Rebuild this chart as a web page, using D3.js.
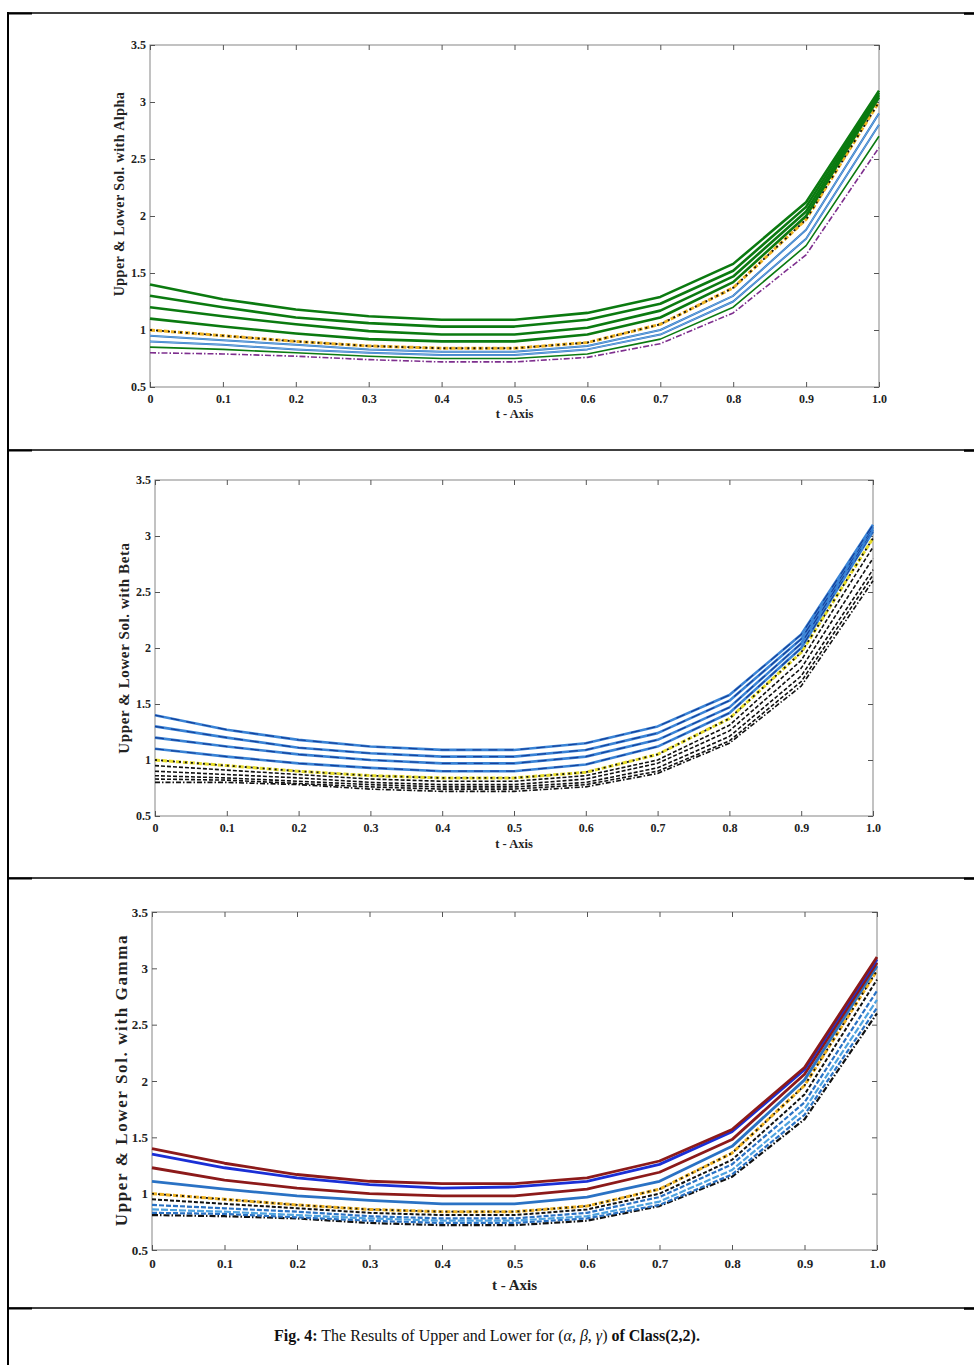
<!DOCTYPE html>
<html>
<head>
<meta charset="utf-8">
<script src="https://cdn.jsdelivr.net/npm/d3@7"></script>
<style>
  html, body { margin: 0; padding: 0; background: #fff; }
  svg { display: block; }
</style>
</head>
<body>
<svg id="fig" width="974" height="1365"></svg>
<script>
// ---- shared axes ----
const tValues = [0, 0.1, 0.2, 0.3, 0.4, 0.5, 0.6, 0.7, 0.8, 0.9, 1.0];
const xTickLabels = ["0", "0.1", "0.2", "0.3", "0.4", "0.5", "0.6", "0.7", "0.8", "0.9", "1.0"];
const yTickValues = [0.5, 1, 1.5, 2, 2.5, 3, 3.5];
const yTickLabels = ["0.5", "1", "1.5", "2", "2.5", "3", "3.5"];

// ---- Alpha panel: upper (green), crisp, lower ----
const alphaUpper1 = [1.40, 1.27, 1.18, 1.12, 1.09, 1.09, 1.15, 1.29, 1.58, 2.12, 3.10];
const alphaUpper2 = [1.30, 1.20, 1.11, 1.06, 1.03, 1.03, 1.09, 1.23, 1.52, 2.08, 3.08];
const alphaUpper3 = [1.20, 1.12, 1.05, 0.99, 0.96, 0.96, 1.02, 1.17, 1.47, 2.04, 3.06];
const alphaUpper4 = [1.10, 1.03, 0.97, 0.92, 0.90, 0.90, 0.96, 1.11, 1.42, 2.00, 3.04];
const alphaCrisp  = [1.00, 0.95, 0.90, 0.86, 0.84, 0.84, 0.89, 1.05, 1.37, 1.97, 3.00];
const alphaLower1 = [0.95, 0.91, 0.87, 0.83, 0.81, 0.81, 0.86, 1.00, 1.30, 1.88, 2.90];
const alphaLower2 = [0.90, 0.87, 0.83, 0.80, 0.78, 0.78, 0.83, 0.96, 1.25, 1.80, 2.80];
const alphaLower3 = [0.85, 0.83, 0.80, 0.77, 0.75, 0.75, 0.79, 0.92, 1.20, 1.74, 2.70];
const alphaLower4 = [0.80, 0.79, 0.77, 0.74, 0.72, 0.72, 0.76, 0.88, 1.15, 1.66, 2.60];

// ---- Beta panel ----
const betaUpper1 = [1.40, 1.27, 1.18, 1.12, 1.09, 1.09, 1.15, 1.30, 1.58, 2.12, 3.10];
const betaUpper2 = [1.30, 1.20, 1.11, 1.06, 1.03, 1.03, 1.09, 1.24, 1.53, 2.08, 3.08];
const betaUpper3 = [1.20, 1.12, 1.05, 1.00, 0.97, 0.97, 1.03, 1.18, 1.47, 2.04, 3.06];
const betaUpper4 = [1.10, 1.03, 0.97, 0.93, 0.90, 0.90, 0.96, 1.12, 1.42, 2.00, 3.04];
const betaCrisp  = [1.00, 0.95, 0.90, 0.86, 0.84, 0.84, 0.89, 1.05, 1.37, 1.96, 2.98];
const betaLower1 = [0.95, 0.91, 0.87, 0.83, 0.81, 0.81, 0.86, 1.00, 1.31, 1.89, 2.90];
const betaLower2 = [0.90, 0.87, 0.84, 0.80, 0.78, 0.78, 0.83, 0.97, 1.26, 1.82, 2.80];
const betaLower3 = [0.86, 0.84, 0.81, 0.78, 0.76, 0.76, 0.80, 0.93, 1.21, 1.75, 2.70];
const betaLower4 = [0.83, 0.82, 0.79, 0.76, 0.74, 0.74, 0.78, 0.90, 1.17, 1.70, 2.65];
const betaLower5 = [0.80, 0.80, 0.78, 0.74, 0.72, 0.72, 0.76, 0.88, 1.15, 1.66, 2.60];

// ---- Gamma panel ----
const gammaUpper1 = [1.40, 1.27, 1.17, 1.11, 1.09, 1.09, 1.14, 1.29, 1.57, 2.12, 3.10];
const gammaUpper2 = [1.35, 1.23, 1.14, 1.08, 1.05, 1.06, 1.11, 1.26, 1.55, 2.10, 3.08];
const gammaUpper3 = [1.23, 1.12, 1.05, 1.00, 0.98, 0.98, 1.04, 1.19, 1.48, 2.06, 3.05];
const gammaUpper4 = [1.11, 1.04, 0.98, 0.94, 0.91, 0.91, 0.97, 1.11, 1.42, 2.01, 3.02];
const gammaCrisp  = [1.00, 0.95, 0.90, 0.86, 0.84, 0.84, 0.89, 1.04, 1.36, 1.96, 2.98];
const gammaLower1 = [0.95, 0.91, 0.87, 0.83, 0.81, 0.81, 0.86, 1.00, 1.30, 1.88, 2.90];
const gammaLower2 = [0.90, 0.87, 0.84, 0.80, 0.78, 0.78, 0.83, 0.97, 1.26, 1.81, 2.80];
const gammaLower3 = [0.86, 0.84, 0.81, 0.78, 0.76, 0.76, 0.80, 0.93, 1.21, 1.75, 2.72];
const gammaLower4 = [0.83, 0.82, 0.79, 0.76, 0.74, 0.74, 0.78, 0.90, 1.17, 1.70, 2.65];
const gammaLower5 = [0.81, 0.80, 0.78, 0.74, 0.72, 0.72, 0.76, 0.89, 1.15, 1.66, 2.60];

const svg = d3.select("#fig");
const serif = "'Liberation Serif', 'Times New Roman', serif";

// ---- table frame ----
const frame = svg.append("g").attr("stroke", "#000").attr("fill", "none");
frame.append("line").attr("x1", 8).attr("x2", 8).attr("y1", 12).attr("y2", 1365).attr("stroke-width", 2);
[13, 450, 878, 1308].forEach(y => {
  frame.append("line").attr("x1", 8).attr("x2", 974).attr("y1", y).attr("y2", y).attr("stroke-width", 1.3);
  frame.append("line").attr("x1", 8).attr("x2", 32).attr("y1", y + 0.5).attr("y2", y + 0.5).attr("stroke-width", 2);
  frame.append("line").attr("x1", 964).attr("x2", 974).attr("y1", y + 0.7).attr("y2", y + 0.7).attr("stroke-width", 2.2);
});

// ---- panel drawing ----
function drawPanel(cfg) {
  const x = d3.scaleLinear().domain([0, 1]).range([cfg.left, cfg.right]);
  const y = d3.scaleLinear().domain([0.5, 3.5]).range([cfg.bottom, cfg.top]);
  const g = svg.append("g");

  // axes box
  g.append("rect")
    .attr("x", cfg.left).attr("y", cfg.top)
    .attr("width", cfg.right - cfg.left).attr("height", cfg.bottom - cfg.top)
    .attr("fill", "#fff").attr("stroke", "#9a9a9a").attr("stroke-width", 1.2);

  const tickStyle = sel => {
    sel.select(".domain").remove();
    sel.selectAll(".tick line").attr("stroke", "#555").attr("stroke-width", 1);
  };

  const fmtX = (d, i) => xTickLabels[i];
  const fmtY = (d, i) => yTickLabels[i];
  const labelStyle = s => s.selectAll("text").attr("font-family", serif).attr("font-weight", "bold")
    .attr("font-size", cfg.tickFont).attr("fill", "#222");

  g.append("g").attr("transform", `translate(0,${cfg.bottom})`)
    .call(d3.axisBottom(x).tickValues(tValues).tickFormat(fmtX).tickSize(-5).tickPadding(cfg.xPad))
    .call(tickStyle).call(labelStyle);
  g.append("g").attr("transform", `translate(0,${cfg.top})`)
    .call(d3.axisTop(x).tickValues(tValues).tickFormat("").tickSize(-5))
    .call(tickStyle);
  g.append("g").attr("transform", `translate(${cfg.left},0)`)
    .call(d3.axisLeft(y).tickValues(yTickValues).tickFormat(fmtY).tickSize(-5).tickPadding(4))
    .call(tickStyle).call(labelStyle);
  g.append("g").attr("transform", `translate(${cfg.right},0)`)
    .call(d3.axisRight(y).tickValues(yTickValues).tickFormat("").tickSize(-5))
    .call(tickStyle);

  const line = d3.line().x((d, i) => x(tValues[i])).y(d => y(d));
  const plot = g.append("g").attr("fill", "none").attr("stroke-linejoin", "round");
  cfg.series.forEach(s => {
    s.strokes.forEach(st => {
      plot.append("path").datum(s.values)
        .attr("d", line)
        .attr("stroke", st.color)
        .attr("stroke-width", st.width)
        .attr("stroke-dasharray", st.dash || null);
    });
  });

  // axis titles
  g.append("text")
    .attr("x", (cfg.left + cfg.right) / 2).attr("y", cfg.xTitleY)
    .attr("text-anchor", "middle")
    .attr("font-family", serif).attr("font-weight", "bold").attr("font-size", cfg.xTitleFont)
    .attr("fill", "#222").text("t - Axis");
  g.append("text")
    .attr("transform", `translate(${cfg.yTitleX},${cfg.yTitleY}) rotate(-90)`)
    .attr("text-anchor", "middle")
    .attr("font-family", serif).attr("font-weight", "bold").attr("font-size", cfg.yTitleFont)
    .attr("letter-spacing", cfg.yTitleSpacing || 0)
    .attr("fill", "#222").text(cfg.yTitle);
}

// line styles
const green = "#0b7a10", mBlue = "#2a72c4", yellow = "#edb120", purple = "#7e2f8e";
const solid = (c, w) => ({ color: c, width: w });
const crispStyle = (yc) => [{ color: yc, width: 3, dash: "5 2" }, { color: "#111", width: 1.8, dash: "2 4" }];

drawPanel({
  left: 150, right: 879, top: 45, bottom: 387,
  tickFont: 12, xPad: 7, xTitleY: 418, xTitleFont: 12.5,
  yTitle: "Upper & Lower Sol. with Alpha", yTitleX: 124, yTitleY: 194, yTitleFont: 14, yTitleSpacing: 0.5,
  series: [
    { values: alphaLower4, strokes: [{ color: purple, width: 1.6, dash: "6 2 1.5 2" }] },
    { values: alphaLower3, strokes: [solid(green, 1.6)] },
    { values: alphaLower2, strokes: [solid(mBlue, 2), { color: "#9fd0f0", width: 0.6 }] },
    { values: alphaLower1, strokes: [solid(mBlue, 2), { color: "#9fd0f0", width: 0.6 }] },
    { values: alphaCrisp, strokes: crispStyle(yellow) },
    { values: alphaUpper4, strokes: [solid(green, 2.6)] },
    { values: alphaUpper3, strokes: [solid(green, 2.6)] },
    { values: alphaUpper2, strokes: [solid(green, 2.6)] },
    { values: alphaUpper1, strokes: [solid(green, 2.6)] }
  ]
});

const bBlue = "#3a84d6", bDark = "#16409a";
const betaUp = [solid(bBlue, 2.6), { color: bDark, width: 1.2, dash: "9 7" }];
const blackDash = [{ color: "#111", width: 1.6, dash: "4 2" }];
drawPanel({
  left: 155, right: 873, top: 480, bottom: 816,
  tickFont: 12, xPad: 7, xTitleY: 848, xTitleFont: 12.5,
  yTitle: "Upper & Lower Sol. with Beta", yTitleX: 129, yTitleY: 648, yTitleFont: 15, yTitleSpacing: 0.6,
  series: [
    { values: betaLower5, strokes: [{ color: "#111", width: 1.6, dash: "5 2 1.5 2" }] },
    { values: betaLower4, strokes: blackDash },
    { values: betaLower3, strokes: blackDash },
    { values: betaLower2, strokes: blackDash },
    { values: betaLower1, strokes: blackDash },
    { values: betaCrisp, strokes: crispStyle("#e6dc2a") },
    { values: betaUpper4, strokes: betaUp },
    { values: betaUpper3, strokes: betaUp },
    { values: betaUpper2, strokes: betaUp },
    { values: betaUpper1, strokes: betaUp }
  ]
});

const dRed = "#8c1a1a", pBlue = "#1a2fd6";
drawPanel({
  left: 152, right: 877, top: 912, bottom: 1250,
  tickFont: 13, xPad: 9, xTitleY: 1290, xTitleFont: 15,
  yTitle: "Upper & Lower Sol. with Gamma", yTitleX: 127, yTitleY: 1080, yTitleFont: 17, yTitleSpacing: 1.6,
  series: [
    { values: gammaLower5, strokes: [{ color: "#111", width: 2.2, dash: "6 2 1.5 2" }] },
    { values: gammaLower4, strokes: [{ color: mBlue, width: 2.2, dash: "5 2" }] },
    { values: gammaLower3, strokes: [{ color: "#4fa3e0", width: 2.2, dash: "7 2" }] },
    { values: gammaLower2, strokes: [{ color: mBlue, width: 2.2, dash: "5 2" }] },
    { values: gammaLower1, strokes: [{ color: "#111", width: 2, dash: "4 2" }] },
    { values: gammaCrisp, strokes: crispStyle(yellow) },
    { values: gammaUpper4, strokes: [solid(mBlue, 2.8)] },
    { values: gammaUpper3, strokes: [solid(dRed, 2.8)] },
    { values: gammaUpper2, strokes: [solid(pBlue, 2.8)] },
    { values: gammaUpper1, strokes: [solid(dRed, 2.8)] }
  ]
});

// ---- caption ----
const cap = svg.append("text")
  .attr("x", 487).attr("y", 1341).attr("text-anchor", "middle")
  .attr("font-family", serif).attr("font-size", 16).attr("fill", "#111");
cap.append("tspan").attr("font-weight", "bold").text("Fig. 4:");
cap.append("tspan").text(" The Results of Upper and Lower for ");
cap.append("tspan").text("(");
cap.append("tspan").attr("font-style", "italic").text("α, β, γ");
cap.append("tspan").text(")");
cap.append("tspan").attr("font-weight", "bold").text(" of Class(2,2).");
</script>
</body>
</html>
